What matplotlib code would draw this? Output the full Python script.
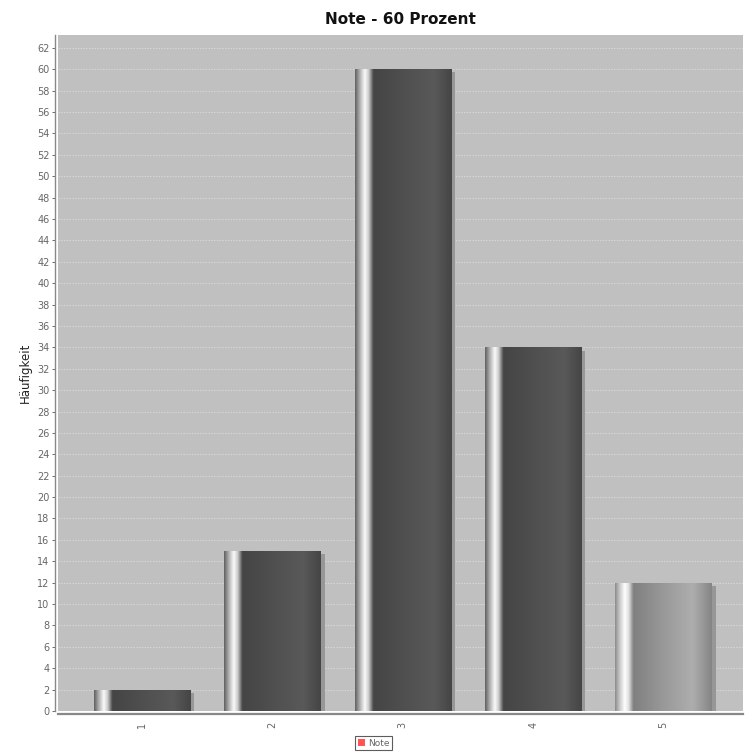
import numpy as np
import matplotlib
matplotlib.use("Agg")
import matplotlib.pyplot as plt
from matplotlib.patches import Rectangle
from matplotlib.colors import LinearSegmentedColormap

categories = ["1", "2", "3", "4", "5"]
counts = [2, 15, 60, 34, 12]
yticks = list(range(0, 63, 2))
title = "Note - 60 Prozent"
ylabel = "Häufigkeit"
legend_label = "Note"

# Horizontal shading profile of the bars (position across bar, grey level)
dark_profile = [(0.00, 0.38), (0.05, 0.70), (0.10, 0.98), (0.14, 0.80),
                (0.19, 0.27), (0.50, 0.31), (0.82, 0.35), (0.93, 0.30), (1.00, 0.27)]
light_profile = [(0.00, 0.55), (0.05, 0.80), (0.10, 1.00), (0.14, 0.88),
                 (0.19, 0.50), (0.50, 0.60), (0.80, 0.68), (0.93, 0.58), (1.00, 0.52)]


def make_cmap(profile, name):
    return LinearSegmentedColormap.from_list(
        name, [(p, (g, g, g)) for p, g in profile])


dark_cmap = make_cmap(dark_profile, "bar_dark")
light_cmap = make_cmap(light_profile, "bar_light")

fig = plt.figure(figsize=(7.47, 7.53), dpi=100)
ax = fig.add_axes([0.0776, 0.0558, 0.9170, 0.8977])
ax.set_facecolor("#c0c0c0")

bar_w = 0.74
grad = np.linspace(0, 1, 256).reshape(1, -1)
for i, v in enumerate(counts):
    x = i + 1
    x0, x1 = x - bar_w / 2, x + bar_w / 2
    # drop shadow
    ax.add_patch(Rectangle((x0 + 0.03, 0), bar_w, v - 0.3,
                           facecolor="#979797", edgecolor="none", zorder=2))
    cmap = light_cmap if i == 4 else dark_cmap
    im = ax.imshow(grad, cmap=cmap, vmin=0, vmax=1, aspect="auto",
                   extent=(x0, x1, 0, v), interpolation="bilinear", zorder=3)
    clip = Rectangle((x0, 0), bar_w, v, transform=ax.transData)
    im.set_clip_path(clip)

ax.set_xlim(0.355, 5.61)
ax.set_ylim(0, 63.2)

ax.set_yticks(yticks)
ax.set_yticklabels([str(t) for t in yticks])
ax.set_xticks(range(1, len(categories) + 1))
ax.set_xticklabels(categories)
ax.tick_params(axis="both", labelsize=7, colors="#555555", labelcolor="#666666",
               length=2, width=0.6, pad=2)
ax.tick_params(axis="x", length=0, pad=6, labelrotation=90)

ax.yaxis.grid(True, color="#e2e2e2", linestyle=(0, (2, 2)), linewidth=0.5)
ax.set_axisbelow(True)
ax.grid(axis="x", visible=False)

for side in ("top", "right"):
    ax.spines[side].set_visible(False)
ax.spines["left"].set_color("#888888")
ax.spines["left"].set_linewidth(1.0)
ax.spines["left"].set_position(("outward", 2))
ax.spines["bottom"].set_color("#888888")
ax.spines["bottom"].set_linewidth(1.6)
ax.spines["bottom"].set_position(("outward", 2))

ax.set_ylabel(ylabel, fontsize=8.5, color="#222222", labelpad=4,
              family="DejaVu Sans Condensed")
ax.set_title(title, fontsize=11, fontweight="bold", color="#111111", pad=8,
             family="DejaVu Sans Condensed")

leg_handle = Rectangle((0, 0), 1, 1, facecolor="#ff5555", edgecolor="none")
leg = fig.legend([leg_handle], [legend_label], loc="center",
                 bbox_to_anchor=(0.5, 0.013), fontsize=6.5, frameon=True,
                 handlelength=0.8, handleheight=0.8, handletextpad=0.3,
                 borderpad=0.3, fancybox=False, labelcolor="#666666")
leg.get_frame().set_edgecolor("#333333")
leg.get_frame().set_linewidth(0.8)

fig.savefig("out.png", dpi=100, facecolor="white")
